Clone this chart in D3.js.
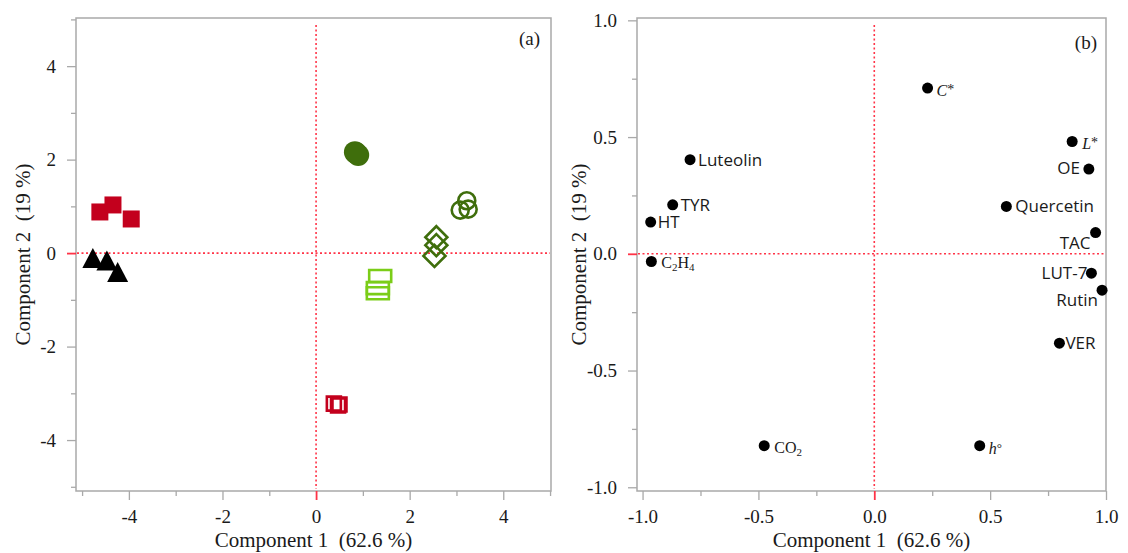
<!DOCTYPE html>
<html>
<head>
<meta charset="utf-8">
<script src="https://cdn.jsdelivr.net/npm/d3@7"></script>
<style>
  body { margin: 0; background: #fff; }
  svg { display: block; }
  text { white-space: pre; }
</style>
</head>
<body>
<svg id="chart" width="1128" height="553"></svg>
<script>
// ---- score plot (a) ----
const scoreGroup = [
  'redSq', 'redSq', 'redSq',
  'tri', 'tri', 'tri',
  'greenDot', 'greenDot', 'greenDot',
  'greenRing', 'greenRing', 'greenRing',
  'greenDiamond', 'greenDiamond', 'greenDiamond',
  'limeRect', 'limeRect', 'limeRect',
  'redOpenSq', 'redOpenSq', 'redOpenSq',
];
const scoreX = [
  -4.62, -4.34, -3.95,
  -4.77, -4.47, -4.24,
  0.83, 0.90, 0.85,
  3.22, 3.08, 3.25,
  2.57, 2.57, 2.53,
  1.37, 1.32, 1.32,
  0.38, 0.47, 0.50,
];
const scoreY = [
  0.88, 1.03, 0.73,
  -0.17, -0.22, -0.47,
  2.16, 2.10, 2.14,
  1.12, 0.92, 0.94,
  0.34, 0.17, -0.06,
  -0.49, -0.75, -0.86,
  -3.22, -3.26, -3.24,
];
const scoreTicks = [-4, -2, 0, 2, 4];
const scoreMinorTicks = [-5, -3, -1, 1, 3, 5];

// ---- loading plot (b) ----
const loadingNames = ['Luteolin', 'TYR', 'HT', 'C2H4', 'C*', 'L*', 'OE', 'Quercetin',
  'TAC', 'LUT-7', 'Rutin', 'VER', 'CO2', 'h°'];
const loadingX = [-0.795, -0.870, -0.965, -0.962, 0.230, 0.854, 0.926, 0.570,
  0.955, 0.937, 0.983, 0.799, -0.475, 0.455];
const loadingY = [0.403, 0.210, 0.136, -0.033, 0.710, 0.481, 0.363, 0.203,
  0.091, -0.083, -0.156, -0.383, -0.822, -0.822];
const loadingTicks = [-1, -0.5, 0, 0.5, 1];
const loadingMinorTicks = [-0.75, -0.25, 0.25, 0.75];

const xTitle = 'Component 1  (62.6 %)';
const yTitle = 'Component 2  (19 %)';

// ---- styles ----
const RED = '#c3001d';
const DKGREEN = '#3f6e0c';
const LIME = '#7bcd18';
const FRAME = '#a9a9a9';
const ZERO = '#ff3347';
const serif = '"Liberation Serif", "DejaVu Serif", serif';
const sans = '"Open Sans", "Noto Sans", sans-serif';

const svg = d3.select('#chart');

function panel(opts) {
  const {x, y, fmt, major, minor, tag, tagX, tagY, titleY} = opts;
  const g = svg.append('g');
  const [x0, x1] = x.range();
  const [y0, y1] = y.range();

  // frame
  g.append('rect')
    .attr('x', x0).attr('y', y1)
    .attr('width', x1 - x0).attr('height', y0 - y1)
    .attr('fill', 'none').attr('stroke', FRAME).attr('stroke-width', 1.5);

  // zero reference lines
  g.append('line')
    .attr('x1', x(0)).attr('x2', x(0))
    .attr('y1', y1 + 7).attr('y2', y0 - 2)
    .attr('stroke', ZERO).attr('stroke-width', 1.6)
    .attr('stroke-dasharray', '2,2.5');
  g.append('line')
    .attr('x1', x0 + 1).attr('x2', x1 - 1)
    .attr('y1', y(0)).attr('y2', y(0))
    .attr('stroke', ZERO).attr('stroke-width', 1.6)
    .attr('stroke-dasharray', '2,2.5');

  // axes (major + minor)
  const xAxis = g.append('g').attr('transform', `translate(0,${y0})`)
    .call(d3.axisBottom(x).tickValues(major).tickFormat(fmt).tickSize(9).tickPadding(10));
  g.append('g').attr('transform', `translate(0,${y0})`)
    .call(d3.axisBottom(x).tickValues(minor).tickFormat('').tickSize(5));
  const yAxis = g.append('g').attr('transform', `translate(${x0},0)`)
    .call(d3.axisLeft(y).tickValues(major).tickFormat(fmt).tickSize(9).tickPadding(11));
  g.append('g').attr('transform', `translate(${x0},0)`)
    .call(d3.axisLeft(y).tickValues(minor).tickFormat('').tickSize(5));

  g.selectAll('.domain').remove();
  g.selectAll('.tick line').attr('stroke', FRAME).attr('stroke-width', 1.3);
  g.selectAll('.tick text')
    .attr('font-family', serif).attr('font-size', 19).attr('fill', '#1a1a1a');
  xAxis.selectAll('.tick').filter(d => d === 0).select('line').attr('stroke', ZERO).attr('stroke-width', 1.8);
  yAxis.selectAll('.tick').filter(d => d === 0).select('line').attr('stroke', ZERO).attr('stroke-width', 1.8);

  // titles
  g.append('text')
    .attr('x', (x0 + x1) / 2).attr('y', 547)
    .attr('text-anchor', 'middle')
    .attr('font-family', serif).attr('font-size', 21).attr('fill', '#1a1a1a')
    .text(xTitle);
  g.append('text')
    .attr('transform', `translate(${titleY},${(y0 + y1) / 2}) rotate(-90)`)
    .attr('text-anchor', 'middle')
    .attr('font-family', serif).attr('font-size', 21).attr('fill', '#1a1a1a')
    .text(yTitle);

  g.append('text')
    .attr('x', tagX).attr('y', tagY)
    .attr('text-anchor', 'end')
    .attr('font-family', serif).attr('font-size', 19).attr('fill', '#1a1a1a')
    .text(tag);

  return g;
}

// ---------- panel (a) ----------
const xa = d3.scaleLinear().domain([-5.13, 5.02]).range([76, 551]);
const ya = d3.scaleLinear().domain([-5.09, 5.03]).range([491, 18]);
const ga = panel({x: xa, y: ya, fmt: d => String(d),
  major: scoreTicks, minor: scoreMinorTicks, tag: '(a)', tagX: 540, tagY: 45, titleY: 30});

const markerPath = {
  redSq: 'M-8.5,-8.5H8.5V8.5H-8.5Z',
  tri: 'M0,-13L10.5,7L-10.5,7Z',
  greenDot: d3.symbol(d3.symbolCircle, Math.PI * 11 * 11)(),
  greenRing: d3.symbol(d3.symbolCircle, Math.PI * 8.5 * 8.5)(),
  greenDiamond: 'M0,-11L11,0L0,11L-11,0Z',
  limeRect: 'M-11,-6H11V6H-11Z',
  redOpenSq: 'M-7,-7H7V7H-7Z',
};
const markerFill = {
  redSq: RED, tri: '#000', greenDot: DKGREEN,
  greenRing: 'none', greenDiamond: 'none', limeRect: 'none', redOpenSq: 'none',
};
const markerStroke = {
  redSq: 'none', tri: 'none', greenDot: 'none',
  greenRing: DKGREEN, greenDiamond: DKGREEN, limeRect: LIME, redOpenSq: RED,
};

ga.append('g').selectAll('path')
  .data(d3.range(scoreX.length))
  .join('path')
  .attr('transform', i => `translate(${xa(scoreX[i])},${ya(scoreY[i])})`)
  .attr('d', i => markerPath[scoreGroup[i]])
  .attr('fill', i => markerFill[scoreGroup[i]])
  .attr('stroke', i => markerStroke[scoreGroup[i]])
  .attr('stroke-width', 2.6);

// ---------- panel (b) ----------
const xb = d3.scaleLinear().domain([-1.024, 1.0]).range([637, 1106]);
const yb = d3.scaleLinear().domain([-1.016, 1.01]).range([491, 18]);
const gb = panel({x: xb, y: yb, fmt: d => d.toFixed(1),
  major: loadingTicks, minor: loadingMinorTicks, tag: '(b)', tagX: 1097, tagY: 49, titleY: 586});

// label placement per variable: [dx, dy, anchor, style]
const labelPos = {
  'Luteolin': [8, 6, 'start', 'sans'],
  'TYR': [8, 6, 'start', 'sans'],
  'HT': [7, 6, 'start', 'sans'],
  'C2H4': [10, 9, 'start', 'serif'],
  'C*': [9, 8, 'start', 'italic'],
  'L*': [10, 7, 'start', 'italic'],
  'OE': [-9, 5, 'end', 'sans'],
  'Quercetin': [9, 6, 'start', 'sans'],
  'TAC': [-5, 16, 'end', 'sans'],
  'LUT-7': [-4, 6, 'end', 'sans'],
  'Rutin': [-4, 16, 'end', 'sans'],
  'VER': [6, 6, 'start', 'sans'],
  'CO2': [10, 10, 'start', 'serif'],
  'h°': [9, 8, 'start', 'italic'],
};

const pts = gb.append('g');
pts.selectAll('circle')
  .data(d3.range(loadingNames.length))
  .join('circle')
  .attr('cx', i => xb(loadingX[i]))
  .attr('cy', i => yb(loadingY[i]))
  .attr('r', 5.5)
  .attr('fill', '#000');

const labels = pts.selectAll('text')
  .data(d3.range(loadingNames.length))
  .join('text')
  .attr('x', i => xb(loadingX[i]) + labelPos[loadingNames[i]][0])
  .attr('y', i => yb(loadingY[i]) + labelPos[loadingNames[i]][1])
  .attr('text-anchor', i => labelPos[loadingNames[i]][2])
  .attr('fill', '#1a1a1a')
  .attr('font-family', i => labelPos[loadingNames[i]][3] === 'sans' ? sans : serif)
  .attr('font-size', i => labelPos[loadingNames[i]][3] === 'sans' ? 17 : 16);

labels.each(function(i) {
  const name = loadingNames[i];
  const t = d3.select(this);
  if (name === 'C2H4' || name === 'CO2') {
    // chemical formula with subscripts
    const parts = name.match(/[A-Z]+|\d+/g);
    parts.forEach(p => {
      if (/\d/.test(p)) {
        t.append('tspan').attr('font-size', 11).attr('dy', 3).text(p);
      } else {
        t.append('tspan').attr('dy', t.selectAll('tspan').size() ? -3 : 0).text(p);
      }
    });
  } else if (name === 'h°') {
    t.append('tspan').attr('font-style', 'italic').text('h');
    t.append('tspan').attr('font-size', 13).attr('dy', -2).text('°');
  } else if (name.endsWith('*')) {
    t.append('tspan').attr('font-style', 'italic').text(name.slice(0, -1));
    t.append('tspan').attr('font-size', 14).attr('dy', -2).text('*');
  } else {
    t.text(name);
  }
});
</script>
</body>
</html>
